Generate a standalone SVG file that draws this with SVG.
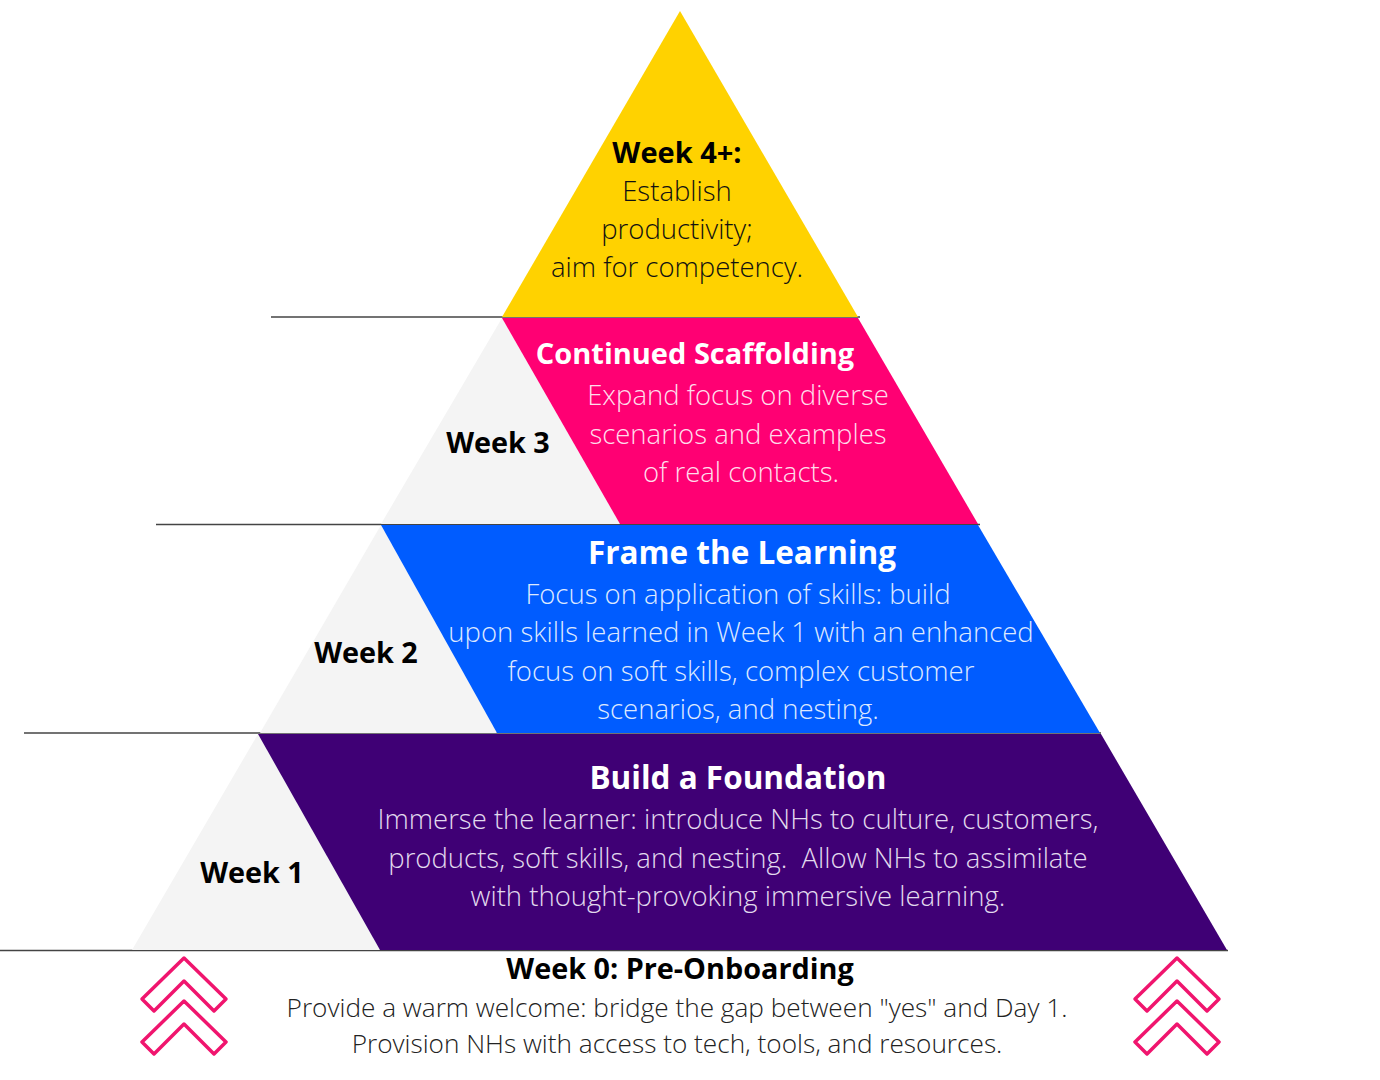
<svg xmlns="http://www.w3.org/2000/svg" width="1380" height="1080" viewBox="0 0 1380 1080">
<style>
.t{font-family:"Open Sans","Liberation Sans",sans-serif;text-anchor:middle}
.h{font-weight:700;font-size:29px}
.hl{font-weight:700;font-size:31.5px}
.b{font-weight:300;font-size:27.5px}
.wk{font-weight:700;font-size:28.8px;fill:#000}
.ln{stroke:#444;stroke-width:1.5}
.chev{fill:#fff;stroke:#F0156E;stroke-width:3.5;stroke-linejoin:round}
</style>
<rect width="1380" height="1080" fill="#fff"/>
<g id="lines">
<line class="ln" x1="271" y1="317" x2="860" y2="317"/>
<line class="ln" x1="156" y1="524.5" x2="980" y2="524.5"/>
<line class="ln" x1="24" y1="733" x2="1101" y2="733"/>
<line class="ln" x1="0" y1="950.5" x2="1228" y2="950.5"/>
</g>
<g id="week4">
<polygon points="680,11 858,317 502,317" fill="#FFD200"/>
<text class="t h" x="677" y="163" fill="#000">Week 4+:</text>
<text class="t b" x="677" y="201" fill="#111">Establish</text>
<text class="t b" x="677" y="239" fill="#111">productivity;</text>
<text class="t b" x="677" y="277" fill="#111">aim for competency.</text>
</g>
<g id="week3">
<polygon points="502,318 620,524 381,524" fill="#F4F4F4"/>
<polygon points="502,318 858,318 978,524 620,524" fill="#FF0073"/>
<text class="t h" x="695" y="364" fill="#fff">Continued Scaffolding</text>
<text class="t b" x="738" y="405" fill="#FFDDEB">Expand focus on diverse</text>
<text class="t b" x="738" y="444" fill="#FFDDEB">scenarios and examples</text>
<text class="t b" x="741" y="482" fill="#FFDDEB">of real contacts.</text>
<text class="t wk" x="498" y="453">Week 3</text>
</g>
<g id="week2">
<polygon points="381,525 497,733 260,733" fill="#F4F4F4"/>
<polygon points="381,525 978,525 1100,733 497,733" fill="#005CFF"/>
<text class="t hl" x="742" y="564" fill="#fff">Frame the Learning</text>
<text class="t b" x="738" y="604" fill="#DDE8FF">Focus on application of skills: build</text>
<text class="t b" x="741" y="642" fill="#DDE8FF">upon skills learned in Week 1 with an enhanced</text>
<text class="t b" x="741" y="681" fill="#DDE8FF">focus on soft skills, complex customer</text>
<text class="t b" x="738" y="719" fill="#DDE8FF">scenarios, and nesting.</text>
<text class="t wk" x="366" y="663">Week 2</text>
</g>
<g id="week1">
<polygon points="258,734 380,950 132,950" fill="#F4F4F4"/>
<polygon points="258,734 1101,734 1227,950 380,950" fill="#3F0075"/>
<text class="t hl" x="738" y="789" fill="#fff">Build a Foundation</text>
<text class="t b" x="738" y="829" fill="#E2DAEE">Immerse the learner: introduce NHs to culture, customers,</text>
<text class="t b" x="738" y="868" fill="#E2DAEE" style="white-space:pre" xml:space="preserve">products, soft skills, and nesting.  Allow NHs to assimilate</text>
<text class="t b" x="738" y="906" fill="#E2DAEE">with thought-provoking immersive learning.</text>
<text class="t wk" x="252" y="883">Week 1</text>
</g>
<g id="week0">
<text class="t wk" x="680" y="979">Week 0: Pre-Onboarding</text>
<text class="t b" x="677" y="1017" fill="#222" style="font-size:26.2px">Provide a warm welcome: bridge the gap between "yes" and Day 1.</text>
<text class="t b" x="677" y="1053" fill="#222" style="font-size:26.2px">Provision NHs with access to tech, tools, and resources.</text>
</g>
<g id="chevrons-left">
<polygon class="chev" points="184,958 226,999 214,1011 184,981 154,1011 142,999"/>
<polygon class="chev" points="184,1001 226,1042 214,1054 184,1024 154,1054 142,1042"/>
</g>
<g id="chevrons-right">
<polygon class="chev" points="1177,958 1219,999 1207,1011 1177,981 1147,1011 1135,999"/>
<polygon class="chev" points="1177,1001 1219,1042 1207,1054 1177,1024 1147,1054 1135,1042"/>
</g>
</svg>
